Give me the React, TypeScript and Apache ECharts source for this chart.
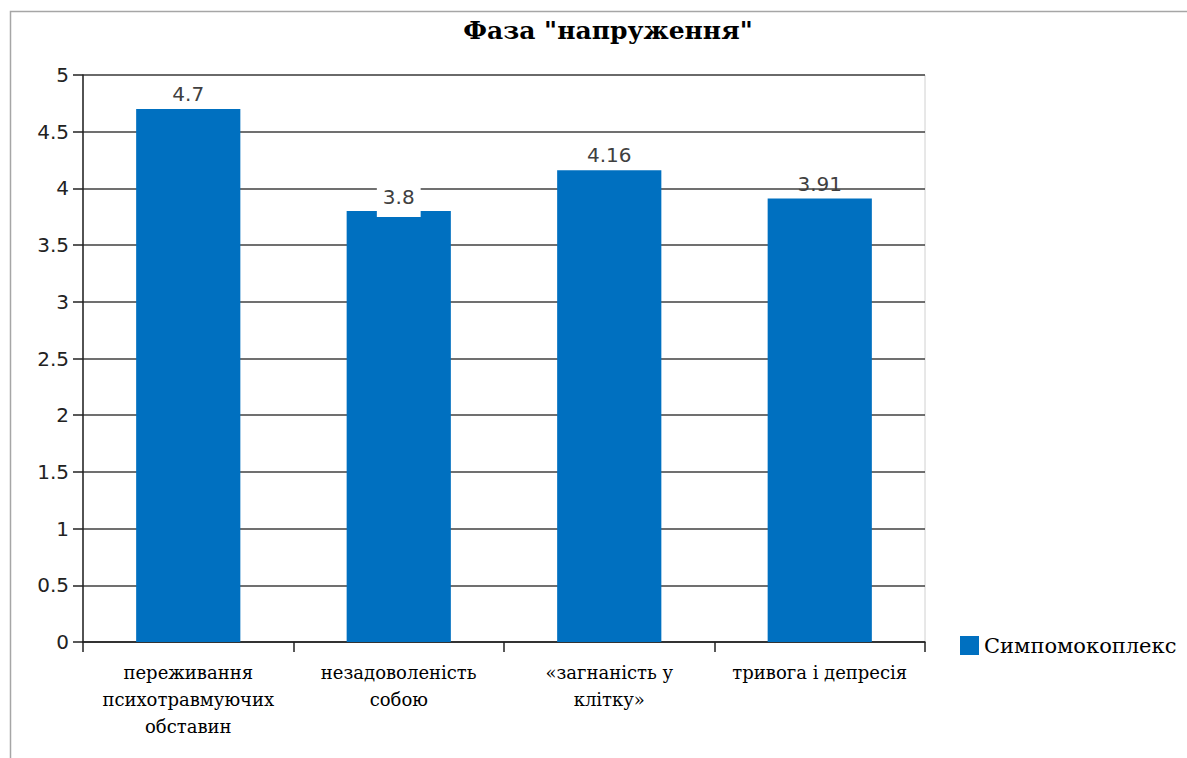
import React, { useEffect, useRef } from "react";
import * as echarts from "echarts";

const titleText = 'Фаза "напруження"';
const seriesName = "Симпомокоплекс";
const categories = [
  "переживання\nпсихотравмуючих\nобставин",
  "незадоволеність\nсобою",
  "«загнаність у\nклітку»",
  "тривога і депресія",
];
const values = [4.7, 3.8, 4.16, 3.91];
const yMin = 0;
const yMax = 5;
const yStep = 0.5;

export default function App() {
  const ref = useRef<HTMLDivElement>(null);
  useEffect(() => {
    document.body.style.margin = "0";
    const chart = echarts.init(ref.current!, null, { renderer: "svg" });
    const sans = "DejaVu Sans";
    const serif = "DejaVu Serif";
    chart.setOption({
      animation: false,
      backgroundColor: "#ffffff",
      title: {
        text: titleText,
        left: 603,
        textAlign: "center",
        top: 13,
        textStyle: { fontFamily: serif, fontWeight: "bold", fontSize: 25, color: "#000" },
      },
      graphic: [
        {
          type: "rect",
          shape: { x: 10.5, y: 11.5, width: 1300, height: 900 },
          style: { fill: "none", stroke: "#a6a6a6", lineWidth: 1.5 },
          silent: true,
        },
      ],
      legend: {
        left: 955,
        top: 630,
        itemWidth: 19,
        itemHeight: 19,
        itemGap: 4,
        icon: "rect",
        textStyle: { fontFamily: serif, fontSize: 21, color: "#000" },
        data: [seriesName],
      },
      grid: {
        left: 83,
        right: 262,
        top: 75,
        bottom: 116,
        show: true,
        borderColor: "#d0d0d0",
        borderWidth: 1,
      },
      xAxis: {
        type: "category",
        data: categories,
        axisLine: { lineStyle: { color: "#222", width: 1.5 } },
        axisTick: { show: true, length: 10, interval: 0, lineStyle: { color: "#222", width: 1.5 } },
        axisLabel: {
          interval: 0,
          margin: 17,
          fontFamily: serif,
          fontSize: 18,
          lineHeight: 27,
          color: "#000",
          formatter: (v: string) =>
            v
              .split("\n")
              .map((s) => "{c|" + s + "}")
              .join("\n"),
          rich: {
            c: { fontFamily: serif, fontSize: 18, lineHeight: 27, color: "#000", align: "center" },
          },
        },
      },
      yAxis: {
        type: "value",
        min: yMin,
        max: yMax,
        interval: yStep,
        axisLine: { show: true, lineStyle: { color: "#222", width: 1.5 } },
        axisTick: { show: true, length: 10, lineStyle: { color: "#222", width: 1.5 } },
        axisLabel: {
          margin: 14,
          fontFamily: sans,
          fontSize: 20,
          color: "#222",
          formatter: (v: number) => "{n|" + v + "}",
          rich: { n: { fontFamily: sans, fontSize: 20, color: "#222" } },
        },
        splitLine: { show: true, lineStyle: { color: "#404040", width: 1.5 } },
      },
      series: [
        {
          name: seriesName,
          type: "bar",
          barWidth: "49.5%",
          itemStyle: { color: "#0070c0" },
          data: values.map((v, i) =>
            i === 1
              ? {
                  value: v,
                  label: {
                    backgroundColor: "#fff",
                    padding: [1, 6, 10, 6],
                    offset: [0, 11],
                  },
                }
              : v
          ),
          label: {
            show: true,
            position: "top",
            distance: 5,
            fontFamily: sans,
            fontSize: 20,
            color: "#404040",
          },
        },
      ],
    });
    return () => chart.dispose();
  }, []);
  return (
    <div
      ref={ref}
      style={{ position: "absolute", left: 0, top: 0, width: 1187, height: 758 }}
    />
  );
}
